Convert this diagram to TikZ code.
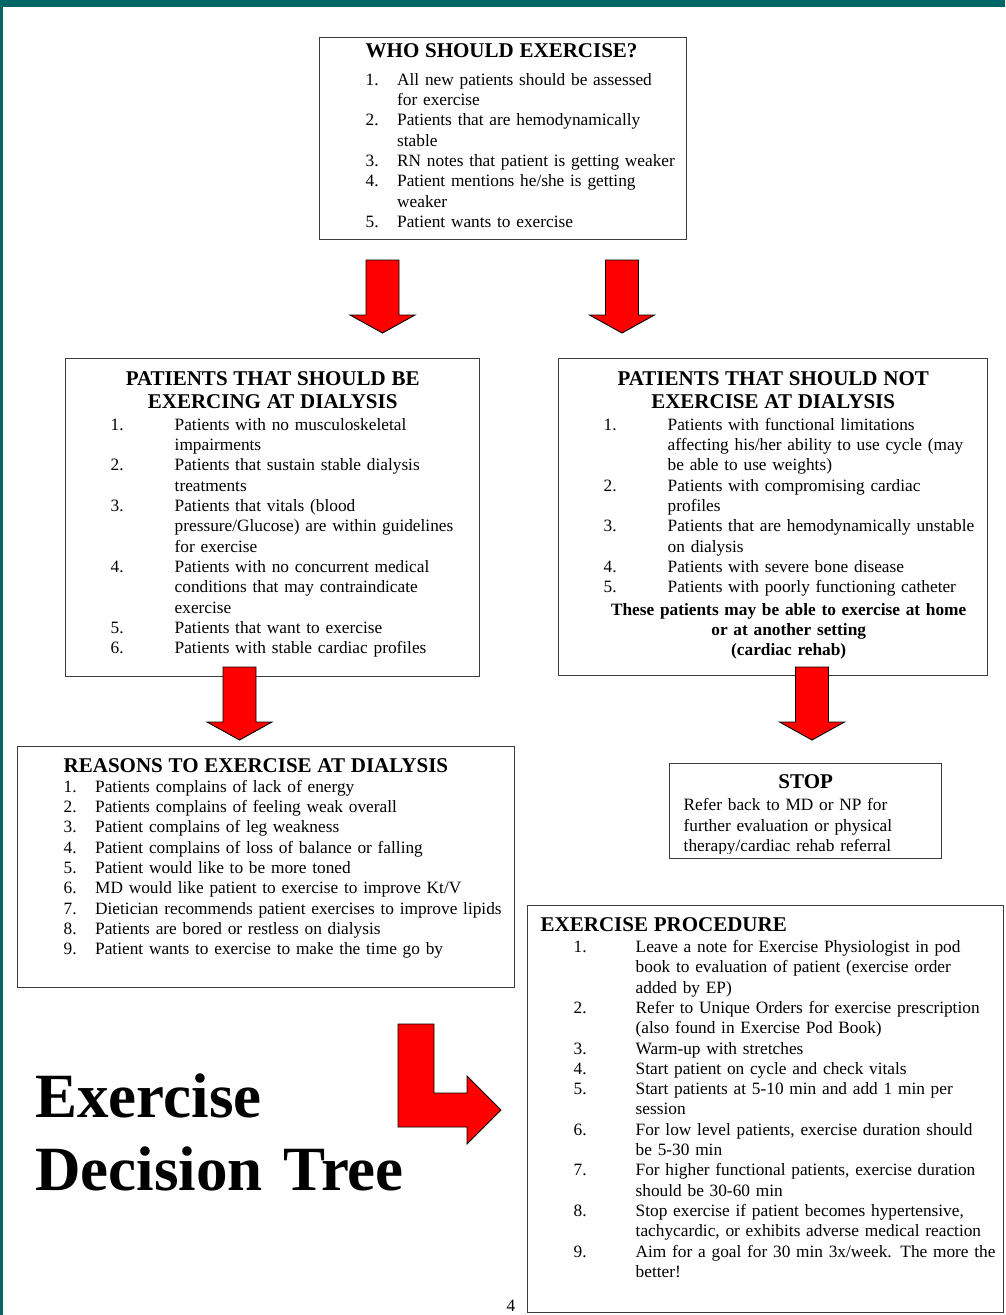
\documentclass[tikz,border=0pt]{standalone}
\usepackage{fontspec}
\setmainfont{Liberation Serif}
\usetikzlibrary{positioning, calc}
\definecolor{slideteal}{RGB}{0,102,102}
\definecolor{boxgrey}{RGB}{60,60,60}
\definecolor{arrowred}{RGB}{255,0,0}

\newlength\numin
\newlength\txtin
\newcommand{\bodyfont}{\fontsize{17.3}{20.3}\selectfont}
\newcommand{\headfont}{\bfseries\fontsize{21}{23.3}\selectfont}
\newcommand{\indents}[2]{\setlength\numin{\dimexpr #1pt+30pt\relax}\setlength\txtin{\dimexpr #2pt+30pt\relax}}
\newcommand{\litem}[2]{\par\leftskip=\numin\relax\rightskip=0pt plus 1fil\relax
  \hangindent=\dimexpr\txtin-\numin\relax\hangafter=1
  \noindent\makebox[\dimexpr\txtin-\numin\relax][l]{#1}#2\par}
\newcommand{\blockarrow}[2]{%
  \filldraw[redarrow] let \p1=(#1), \p2=(#2) in
    (\x1-16.5pt,\y1) -- (\x1+16.5pt,\y1) -- (\x1+16.5pt,\y2+18pt) -- (\x1+32.5pt,\y2+18pt)
    -- (\x1,\y2) -- (\x1-32.5pt,\y2+18pt) -- (\x1-16.5pt,\y2+18pt) -- cycle;}

\tikzset{
  boxframe/.style={draw=boxgrey, line width=1.4pt, anchor=north west, inner sep=0pt},
  txt/.style={anchor=base, inner sep=0pt, font=\bodyfont},
  redarrow/.style={fill=arrowred, draw=black, line width=0.9pt, line join=miter},
}

\begin{document}
\begin{tikzpicture}[x=1pt, y=-1pt]
  \useasboundingbox (0,0) rectangle (1005,1315);
  % slide edge
  \fill[slideteal] (0,0) rectangle (1005,7);
  \fill[slideteal] (0,0) rectangle (3,1315);

  % boxes
  \node[boxframe, minimum width=367pt, minimum height=202pt] (who) at (319,37) {};
  \node[boxframe, minimum width=414pt, minimum height=318pt] (shouldbe) at (65,358) {};
  \node[boxframe, minimum width=429pt, minimum height=317pt] (shouldnot) at (558,358) {};
  \node[boxframe, minimum width=497pt, minimum height=241pt] (reasons) at (17,746) {};
  \node[boxframe, minimum width=272pt, minimum height=95pt] (stop) at (669,763) {};
  \node[boxframe, minimum width=476pt, minimum height=407pt] (proc) at (527,905) {};

  \node[txt, text width=427pt] (whotxt) at ($(who.north)+(0,20)$) {%
    \indents{46}{77.5}%
    {\headfont\leftskip=\numin WHO SHOULD EXERCISE?\par}\vspace{8pt}
    \litem{1.}{All new patients should be assessed\newline for exercise}
    \litem{2.}{Patients that are hemodynamically\newline stable}
    \litem{3.}{RN notes that patient is getting weaker}
    \litem{4.}{Patient mentions he/she is getting\newline weaker}
    \litem{5.}{Patient wants to exercise}};

  \node[txt, text width=474pt] (shouldbetxt) at ($(shouldbe.north)+(0,27)$) {%
    \indents{45}{109}%
    {\headfont\centering PATIENTS THAT SHOULD BE\\ EXERCING AT DIALYSIS\par}\vspace{1.7pt}
    \litem{1.}{Patients with no musculoskeletal\newline impairments}
    \litem{2.}{Patients that sustain stable dialysis\newline treatments}
    \litem{3.}{Patients that vitals (blood\newline pressure/Glucose) are within guidelines\newline for exercise}
    \litem{4.}{Patients with no concurrent medical\newline conditions that may contraindicate\newline exercise}
    \litem{5.}{Patients that want to exercise}
    \litem{6.}{Patients with stable cardiac profiles}};

  \node[txt, text width=489pt] (shouldnottxt) at ($(shouldnot.north)+(0,27)$) {%
    \indents{45}{109}%
    {\headfont\centering PATIENTS THAT SHOULD NOT\\ EXERCISE AT DIALYSIS\par}\vspace{1.7pt}
    \litem{1.}{Patients with functional limitations\newline affecting his/her ability to use cycle (may\newline be able to use weights)}
    \litem{2.}{Patients with compromising cardiac\newline profiles}
    \litem{3.}{Patients that are hemodynamically unstable\newline on dialysis}
    \litem{4.}{Patients with severe bone disease}
    \litem{5.}{Patients with poorly functioning catheter}
    \vspace{2pt}
    {\bfseries\centering\leftskip=31pt plus 1fil\relax These patients may be able to exercise at home\\
     or at another setting\\ (cardiac rehab)\par}};

  \node[txt, text width=557pt] (reasonstxt) at ($(reasons.north)+(0,26)$) {%
    \indents{46}{77.5}%
    {\headfont\leftskip=\numin REASONS TO EXERCISE AT DIALYSIS\par}
    \litem{1.}{Patients complains of lack of energy}
    \litem{2.}{Patients complains of feeling weak overall}
    \litem{3.}{Patient complains of leg weakness}
    \litem{4.}{Patient complains of loss of balance or falling}
    \litem{5.}{Patient would like to be more toned}
    \litem{6.}{MD would like patient to exercise to improve Kt/V}
    \litem{7.}{Dietician recommends patient exercises to improve lipids}
    \litem{8.}{Patients are bored or restless on dialysis}
    \litem{9.}{Patient wants to exercise to make the time go by}};

  \begin{scope}
    \clip ($(stop.north west)+(1,1)$) rectangle ($(stop.south east)+(-1,-6)$);
    \node[txt, text width=332pt] (stoptxt) at ($(stop.north)+(0,25)$) {%
      {\headfont\centering STOP\par}\vspace{2.4pt}
      {\leftskip=44pt\rightskip=0pt plus 1fil\relax Refer back to MD or NP for\newline
       further evaluation or physical\newline therapy/cardiac rehab referral\par}};
  \end{scope}

  \node[txt, text width=536pt] (proctxt) at ($(proc.north)+(0,26.5)$) {%
    \indents{46}{108}%
    {\headfont\leftskip=43pt EXERCISE PROCEDURE\par}\vspace{0.7pt}
    \litem{1.}{Leave a note for Exercise Physiologist in pod\newline book to evaluation of patient (exercise order\newline added by EP)}
    \litem{2.}{Refer to Unique Orders for exercise prescription\newline (also found in Exercise Pod Book)}
    \litem{3.}{Warm-up with stretches}
    \litem{4.}{Start patient on cycle and check vitals}
    \litem{5.}{Start patients at 5-10 min and add 1 min per\newline session}
    \litem{6.}{For low level patients, exercise duration should\newline be 5-30 min}
    \litem{7.}{For higher functional patients, exercise duration\newline should be 30-60 min}
    \litem{8.}{Stop exercise if patient becomes hypertensive,\newline tachycardic, or exhibits adverse medical reaction}
    \litem{9.}{Aim for a goal for 30 min 3x/week. The more the\newline better!}};

  % title and page number
  \node[anchor=base west, inner sep=0pt, text width=450pt,
        font=\bfseries\fontsize{63}{73}\selectfont] (title) at (35,1117) {Exercise\\Decision Tree};
  \node[txt] (pagenum) at (511,1311) {4};

  % red arrows
  \coordinate (whoL) at (382.5,260);  \coordinate (whoLtip) at (382.5,333);
  \coordinate (whoR) at (622,260);    \coordinate (whoRtip) at (622,333);
  \coordinate (beD) at (239.5,667);   \coordinate (beDtip) at (239.5,740);
  \coordinate (notD) at (812,667);    \coordinate (notDtip) at (812,740);
  \blockarrow{whoL}{whoLtip}
  \blockarrow{whoR}{whoRtip}
  \blockarrow{beD}{beDtip}
  \blockarrow{notD}{notDtip}
  \filldraw[redarrow] (398,1024) -- (434,1024) -- (434,1093) -- (467,1093) -- (467,1076)
    -- (501,1110) -- (467,1144) -- (467,1127) -- (398,1127) -- cycle;
\end{tikzpicture}
\end{document}
